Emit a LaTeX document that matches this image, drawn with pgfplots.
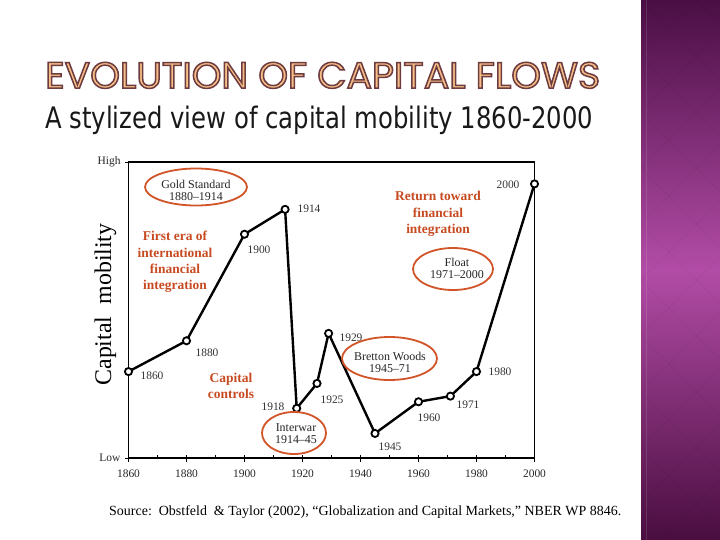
\documentclass[border=0pt]{standalone}
\usepackage{pgfplots}
\pgfplotsset{compat=1.18}
\usepackage{fontspec}
\setmainfont{Liberation Serif}
\newfontfamily\titlefont{Poppins}
\newfontfamily\subfont{DejaVu Sans}
\definecolor{annot}{HTML}{D2552A}
\definecolor{redtext}{HTML}{C84A20}
\definecolor{tfill}{HTML}{F6BF86}
\definecolor{tline}{HTML}{6E3B3F}
\definecolor{ptop}{HTML}{4A0E44}
\definecolor{pmid}{HTML}{B24CA6}
\definecolor{pbot}{HTML}{4A0E40}
\newcommand\outl[1]{{\color{tfill}\special{pdf:literal direct 2 Tr 1.5 w 0.43 0.23 0.25 RG}#1\special{pdf:literal direct 0 Tr}}}
\begin{document}
\begin{tikzpicture}
\useasboundingbox (0,0) rectangle (720bp,-540bp);
\fill[white] (0,0) rectangle (720bp,-540bp);
% right purple strip
\shade[top color=ptop, bottom color=pbot, middle color=pmid] (641bp,0) rectangle (720bp,-540bp);
\begin{scope}
\clip (641bp,0) rectangle (720bp,-540bp);
\foreach \k in {-10,...,12} {
  \draw[black, opacity=0.04, line width=0.8bp] (641bp,{-\k*56bp}) -- ++(600bp,-600bp);
  \draw[black, opacity=0.04, line width=0.8bp] (641bp,{-\k*56bp}) -- ++(600bp,600bp);
}
\end{scope}
\draw[white, opacity=0.12, line width=1bp] (646bp,0) -- (646bp,-540bp);
% title
\node[anchor=north west, inner sep=0] at (45bp,-62bp)
  {\resizebox{555bp}{26bp}{\fontsize{37}{40}\selectfont\titlefont\outl{EVOLUTION OF CAPITAL FLOWS}}};
\node[anchor=base west, inner sep=0, text=black!90] at (45bp,-128bp)
  {\resizebox{548bp}{22.5bp}{\subfont A stylized view of capital mobility 1860-2000}};
\begin{axis}[
  at={(128.5bp,-458bp)}, anchor=south west,
  width=406bp, height=296bp, scale only axis,
  xmin=1860, xmax=2000, ymin=0, ymax=100,
  clip=false,
  axis line style={black, line width=1.1bp},
  xtick={1860,1880,...,2000},
  ytick={0,100}, yticklabels={Low,High},
  tick align=center, major tick length=7bp,
  tick style={black, line width=0.9bp},
  xtick pos=bottom, ytick pos=left,
  extra x ticks={1870,1890,...,1990}, extra x tick labels={},
  extra x tick style={tick align=inside, major tick length=3.5bp},
  ticklabel style={font=\fontsize{11.5}{12}\selectfont, text=black!85},
  /pgf/number format/assume math mode=true,
  /pgf/number format/set thousands separator={},
  xticklabel style={yshift=-5bp},
  yticklabel style={xshift=-1bp},
]
\addplot[black, line width=2.4bp, mark=*, mark size=3.6bp,
  mark options={fill=white, draw=black, line width=1.8bp, solid}] table {
x y
1860 29.2
1880 39.6
1900 75.6
1914 84.0
1918 16.8
1925 25.2
1929 42.1
1945 8.3
1960 19.0
1971 20.9
1980 29.2
2000 92.6
};
\end{axis}
% y label
\node[rotate=90, anchor=base, font=\fontsize{24}{26}\selectfont] at (111bp,-304.5bp) {Capital\ \ mobility};
% year labels
\begin{scope}[every node/.style={font=\fontsize{11.5}{12}\selectfont, text=black!80, inner sep=0}]
\node at (152bp,-376bp) {1860};
\node at (207bp,-353bp) {1880};
\node at (259bp,-250bp) {1900};
\node at (309bp,-209bp) {1914};
\node at (273bp,-407bp) {1918};
\node at (332bp,-400bp) {1925};
\node at (351bp,-338bp) {1929};
\node at (390bp,-447bp) {1945};
\node at (429bp,-418bp) {1960};
\node at (468bp,-405bp) {1971};
\node at (500bp,-372bp) {1980};
\node at (508bp,-185bp) {2000};
\end{scope}
% ellipses
\begin{scope}[annot, line width=1.8bp]
\draw (196bp,-187bp) ellipse [x radius=51bp, y radius=18.5bp];
\draw (453bp,-269bp) ellipse [x radius=40bp, y radius=21bp];
\draw (294bp,-433bp) ellipse [x radius=32bp, y radius=21bp];
\draw (389.5bp,-358.5bp) ellipse [x radius=47.5bp, y radius=21.5bp];
\end{scope}
\begin{scope}[every node/.style={font=\fontsize{12}{12}\selectfont, text=black!85, align=center, inner sep=0}]
\node at (196bp,-190bp) {Gold Standard\\1880--1914};
\node at (457bp,-268bp) {Float\\1971--2000};
\node at (296bp,-434bp) {Interwar\\1914--45};
\node at (390bp,-362bp) {Bretton Woods\\1945--71};
\end{scope}
\begin{scope}[every node/.style={font=\fontsize{13.5}{16.5}\selectfont\bfseries, text=redtext, align=center, inner sep=0}]
\node at (175bp,-262bp) {First era of\\international\\financial\\integration};
\node at (438bp,-214bp) {Return toward\\financial\\integration};
\node at (231bp,-386bp) {Capital\\controls};
\end{scope}
\node[anchor=west, inner sep=0] at (109bp,-512bp)
  {\resizebox{512bp}{!}{\fontsize{12.8}{14}\selectfont Source:\ \ Obstfeld\ \ \& Taylor (2002), ``Globalization and Capital Markets,'' NBER WP 8846.}};
\end{tikzpicture}
\end{document}
